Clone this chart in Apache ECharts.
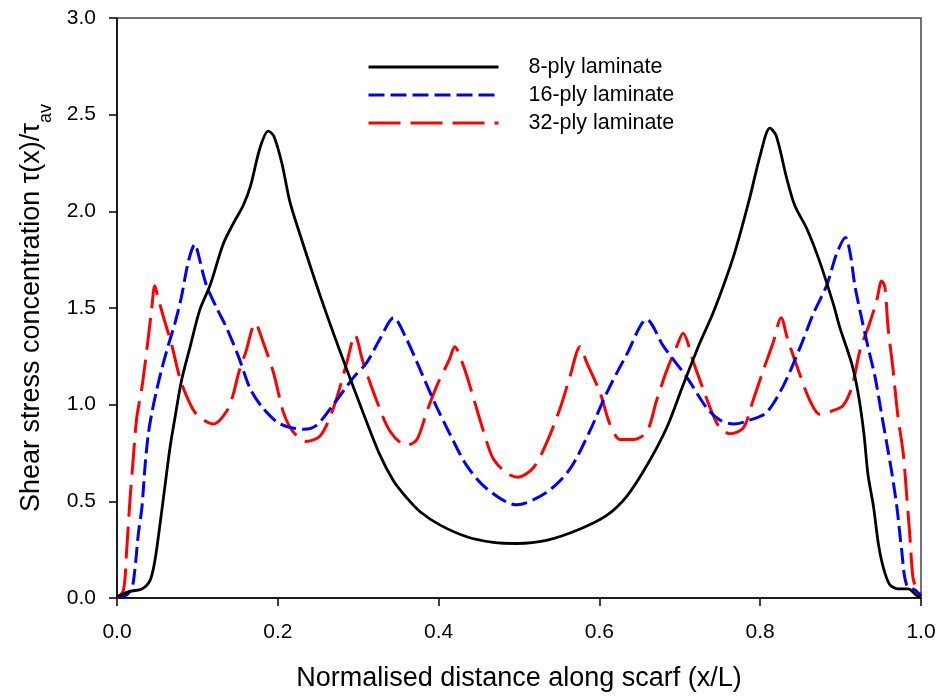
<!DOCTYPE html>
<html>
<head>
<meta charset="utf-8">
<script src="https://cdn.jsdelivr.net/npm/echarts@6/dist/echarts.min.js"></script>
<style>
  html, body { margin: 0; padding: 0; background: #ffffff; }
  #chart { width: 939px; height: 699px; }
</style>
</head>
<body>
<div id="chart"></div>
<script>
// Normalised position along the scarf joint (x/L) and shear stress concentration tau(x)/tau_av
const xTicks = [0.0, 0.2, 0.4, 0.6, 0.8, 1.0];
const yTicks = [0.0, 0.5, 1.0, 1.5, 2.0, 2.5, 3.0];
const seriesNames = ['8-ply laminate', '16-ply laminate', '32-ply laminate'];

const ply8X = [0, 0.016, 0.031, 0.041, 0.047, 0.053, 0.060, 0.066, 0.072, 0.080, 0.091, 0.103, 0.116, 0.132, 0.145, 0.157, 0.166, 0.178, 0.188, 0.195, 0.205, 0.215, 0.228, 0.253, 0.277, 0.306, 0.327, 0.344, 0.360, 0.377, 0.402, 0.435, 0.468, 0.497, 0.534, 0.576, 0.609, 0.634, 0.659, 0.684, 0.704, 0.725, 0.742, 0.767, 0.787, 0.800, 0.812, 0.820, 0.833, 0.843, 0.858, 0.874, 0.891, 0.899, 0.914, 0.922, 0.929, 0.934, 0.941, 0.947, 0.953, 0.961, 0.972, 0.984, 0.995, 1.0];
const ply8Y = [0.005, 0.034, 0.047, 0.09, 0.19, 0.365, 0.59, 0.78, 0.93, 1.12, 1.30, 1.49, 1.62, 1.83, 1.94, 2.03, 2.13, 2.33, 2.415, 2.39, 2.25, 2.05, 1.875, 1.56, 1.28, 0.96, 0.74, 0.605, 0.52, 0.446, 0.377, 0.317, 0.288, 0.282, 0.298, 0.357, 0.427, 0.526, 0.685, 0.883, 1.10, 1.32, 1.48, 1.77, 2.07, 2.29, 2.43, 2.39, 2.17, 2.03, 1.91, 1.74, 1.52, 1.40, 1.21, 1.055, 0.85, 0.64, 0.47, 0.28, 0.16, 0.07, 0.047, 0.047, 0.012, 0.005];

const ply16X = [0, 0.008, 0.018, 0.022, 0.0265, 0.031, 0.035, 0.039, 0.043, 0.049, 0.056, 0.064, 0.072, 0.080, 0.089, 0.097, 0.101, 0.111, 0.124, 0.136, 0.151, 0.166, 0.182, 0.203, 0.232, 0.248, 0.269, 0.294, 0.311, 0.327, 0.344, 0.360, 0.373, 0.394, 0.415, 0.435, 0.460, 0.497, 0.534, 0.563, 0.588, 0.609, 0.634, 0.659, 0.680, 0.709, 0.734, 0.750, 0.767, 0.787, 0.808, 0.829, 0.850, 0.866, 0.883, 0.895, 0.906, 0.912, 0.918, 0.926, 0.934, 0.943, 0.951, 0.957, 0.964, 0.970, 0.976, 0.982, 0.993, 1.0];
const ply16Y = [0.01, 0.01, 0.047, 0.14, 0.33, 0.47, 0.69, 0.85, 0.95, 1.07, 1.19, 1.31, 1.42, 1.555, 1.745, 1.83, 1.78, 1.62, 1.50, 1.40, 1.25, 1.08, 0.98, 0.90, 0.873, 0.893, 1.00, 1.14, 1.22, 1.34, 1.45, 1.34, 1.22, 1.02, 0.84, 0.685, 0.565, 0.482, 0.546, 0.665, 0.863, 1.06, 1.26, 1.44, 1.30, 1.14, 0.98, 0.92, 0.90, 0.92, 0.96, 1.10, 1.30, 1.47, 1.62, 1.78, 1.865, 1.78, 1.61, 1.45, 1.30, 1.14, 0.95, 0.81, 0.64, 0.47, 0.245, 0.07, 0.04, 0.01];

const ply32X = [0, 0.008, 0.012, 0.016, 0.020, 0.0245, 0.031, 0.037, 0.043, 0.047, 0.051, 0.058, 0.068, 0.078, 0.087, 0.099, 0.120, 0.137, 0.145, 0.151, 0.160, 0.172, 0.182, 0.195, 0.207, 0.219, 0.236, 0.253, 0.269, 0.286, 0.296, 0.306, 0.323, 0.340, 0.360, 0.373, 0.385, 0.398, 0.414, 0.420, 0.431, 0.443, 0.456, 0.468, 0.485, 0.499, 0.518, 0.534, 0.551, 0.563, 0.576, 0.584, 0.601, 0.613, 0.626, 0.642, 0.659, 0.671, 0.684, 0.696, 0.704, 0.717, 0.729, 0.742, 0.750, 0.762, 0.779, 0.791, 0.804, 0.816, 0.826, 0.834, 0.849, 0.862, 0.874, 0.891, 0.903, 0.914, 0.924, 0.936, 0.945, 0.951, 0.955, 0.959, 0.965, 0.971, 0.978, 0.982, 0.986, 0.990, 0.995, 1.0];
const ply32Y = [0.0, 0.04, 0.245, 0.50, 0.71, 0.93, 1.09, 1.28, 1.49, 1.615, 1.555, 1.45, 1.31, 1.14, 1.04, 0.95, 0.90, 0.97, 1.06, 1.16, 1.27, 1.42, 1.32, 1.16, 0.96, 0.86, 0.81, 0.84, 0.98, 1.22, 1.36, 1.22, 1.02, 0.86, 0.79, 0.82, 0.96, 1.10, 1.24, 1.30, 1.20, 1.04, 0.86, 0.72, 0.645, 0.625, 0.675, 0.80, 0.98, 1.14, 1.30, 1.22, 1.06, 0.90, 0.82, 0.82, 0.86, 1.02, 1.18, 1.30, 1.37, 1.22, 1.08, 0.94, 0.88, 0.85, 0.88, 1.02, 1.18, 1.32, 1.45, 1.34, 1.16, 1.02, 0.95, 0.97, 0.995, 1.09, 1.28, 1.42, 1.54, 1.64, 1.61, 1.40, 1.19, 0.95, 0.745, 0.54, 0.33, 0.107, 0.04, 0.02];

const pairs = (xs, ys) => xs.map((x, i) => [x, ys[i]]);

const FONT = '"Liberation Sans", Arial, Helvetica, sans-serif';

const chart = echarts.init(document.getElementById('chart'), null, { renderer: 'canvas' });

chart.setOption({
  backgroundColor: '#ffffff',
  animation: false,
  grid: {
    left: 117, top: 18, width: 804, height: 580,
    show: true, borderColor: '#444444', borderWidth: 1.5, backgroundColor: 'transparent'
  },
  legend: {
    orient: 'vertical',
    left: 367, top: 56,
    padding: 0,
    itemWidth: 130, itemHeight: 14, itemGap: 6,
    data: seriesNames,
    itemStyle: { opacity: 0 },
    lineStyle: { width: 3 },
    textStyle: { fontFamily: FONT, fontSize: 21.5, color: '#000', padding: [0, 0, 0, 25], lineHeight: 20 }
  },
  xAxis: {
    type: 'value', min: xTicks[0], max: xTicks[xTicks.length - 1], interval: 0.2,
    name: 'Normalised distance along scarf (x/L)',
    nameLocation: 'middle', nameGap: 67,
    nameTextStyle: { fontFamily: FONT, fontSize: 27, color: '#000' },
    axisLine: { show: true, lineStyle: { color: '#000', width: 1.5 } },
    axisTick: { show: true, length: 8, lineStyle: { color: '#000', width: 1.5 } },
    axisLabel: { margin: 24, fontFamily: FONT, fontSize: 21, color: '#000', formatter: v => v.toFixed(1) },
    splitLine: { show: false }
  },
  yAxis: {
    type: 'value', min: yTicks[0], max: yTicks[yTicks.length - 1], interval: 0.5,
    name: '{m|Shear stress concentration τ(x)/τ}{s|av}',
    nameLocation: 'middle', nameRotate: 90, nameGap: 72,
    nameTextStyle: {
      fontFamily: FONT, color: '#000',
      rich: {
        m: { fontFamily: FONT, fontSize: 27, color: '#000', lineHeight: 30, verticalAlign: 'bottom' },
        s: { fontFamily: FONT, fontSize: 18, color: '#000', lineHeight: 18, verticalAlign: 'bottom', padding: [0, 0, -10, 0] }
      }
    },
    axisLine: { show: true, lineStyle: { color: '#000', width: 1.5 } },
    axisTick: { show: true, length: 8, lineStyle: { color: '#000', width: 1.5 } },
    axisLabel: { margin: 21, fontFamily: FONT, fontSize: 21, color: '#000', formatter: v => v.toFixed(1) },
    splitLine: { show: false }
  },
  series: [
    {
      name: seriesNames[0], type: 'line', data: pairs(ply8X, ply8Y),
      showSymbol: false, symbol: 'none', smooth: 0.3,
      lineStyle: { color: '#000000', width: 2.8, type: 'solid' },
      itemStyle: { color: '#000000' }, z: 3
    },
    {
      name: seriesNames[1], type: 'line', data: pairs(ply16X, ply16Y),
      showSymbol: false, symbol: 'none', smooth: 0.3,
      lineStyle: { color: '#0000ff', width: 3, type: [16, 6] },
      itemStyle: { color: '#0000ff' }, z: 2
    },
    {
      name: seriesNames[2], type: 'line', data: pairs(ply32X, ply32Y),
      showSymbol: false, symbol: 'none', smooth: 0.3,
      lineStyle: { color: '#ff0000', width: 3, type: [32, 10] },
      itemStyle: { color: '#ff0000' }, z: 1
    }
  ]
});
</script>
</body>
</html>
